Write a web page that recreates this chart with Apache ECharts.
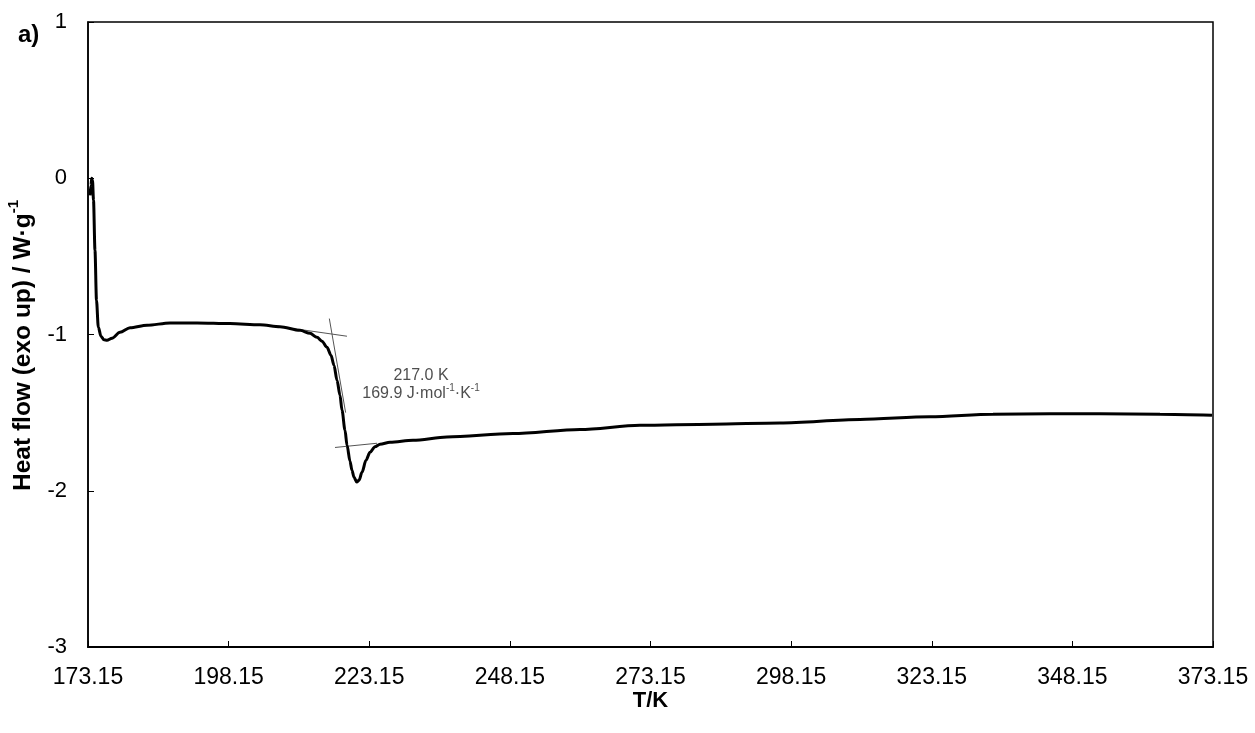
<!DOCTYPE html>
<html>
<head>
<meta charset="utf-8">
<title>DSC heat flow</title>
<script src="https://cdn.jsdelivr.net/npm/echarts@6/dist/echarts.min.js"></script>
<style>
  html, body { margin: 0; padding: 0; background: #fff; }
  #chart { width: 1255px; height: 733px; }
</style>
</head>
<body>
<div id="chart"></div>
<script>
// DSC trace: temperature (K) and heat flow (W/g, exo up)
const temperature = [
  173.51, 173.68, 173.81, 173.95, 174.13, 174.39, 174.66, 174.98, 175.46, 175.99,
  176.53, 177.42, 178.84, 180.62, 183.64, 187.73, 192.53, 198.39, 203.73, 207.28,
  210.84, 212.62, 213.86, 214.75, 215.64, 216.35, 216.88, 217.42, 217.95, 218.31,
  218.84, 219.20, 219.73, 220.08, 220.44, 220.92, 221.33, 221.86, 222.57, 223.28,
  224.17, 225.06, 226.84, 230.93, 236.97, 248.70, 260.62, 271.28, 284.26, 296.17,
  310.39, 322.84, 334.04, 344.17, 353.06, 363.73, 372.97
];
const heatFlow = [
  -0.109, -0.045, 0.000, -0.013, -0.141, -0.461, -0.781, -0.952, -1.011, -1.034,
  -1.037, -1.024, -0.986, -0.957, -0.941, -0.926, -0.926, -0.930, -0.938, -0.950,
  -0.973, -0.992, -1.018, -1.043, -1.082, -1.133, -1.197, -1.293, -1.389, -1.485,
  -1.613, -1.709, -1.811, -1.869, -1.914, -1.944, -1.933, -1.882, -1.805, -1.754,
  -1.718, -1.702, -1.690, -1.677, -1.656, -1.634, -1.608, -1.581, -1.574, -1.566,
  -1.544, -1.526, -1.510, -1.507, -1.507, -1.510, -1.517
];

// construction lines for the onset evaluation
const baselineBefore = [[210.48, -0.966], [219.19, -1.011]];
const inflectionTangent = [[216.05, -0.898], [218.95, -1.500]];
const baselineAfter = [[217.06, -1.723], [224.53, -1.696]];

const xTicks = [173.15, 198.15, 223.15, 248.15, 273.15, 298.15, 323.15, 348.15, 373.15];

const onsetText = '217.0 K';
const heatCapText = '169.9';
const annotationAt = [232.35, -1.312];

const FONT = '"Liberation Sans", Arial, sans-serif';

const chart = echarts.init(document.getElementById('chart'), null, { renderer: 'canvas' });

function thinLine(data) {
  return {
    type: 'line', data, symbol: 'none', silent: true, z: 3,
    lineStyle: { color: '#555', width: 1 }
  };
}

chart.setOption({
  animation: false,
  backgroundColor: '#fff',
  grid: {
    left: 88, right: 42, top: 22, bottom: 86,
    outerBoundsMode: 'none', containLabel: false,
    show: true, borderColor: '#000', borderWidth: 1.5, backgroundColor: 'transparent'
  },
  graphic: [{
    type: 'text', left: 18, top: 23,
    style: { text: 'a)', font: 'bold 24px ' + FONT, fill: '#000' }
  }],
  xAxis: {
    type: 'value', min: 173.15, max: 373.15,
    name: 'T/K', nameLocation: 'middle', nameGap: 43, nameMoveOverlap: false,
    nameTextStyle: { fontFamily: FONT, fontWeight: 'bold', fontSize: 22, color: '#000' },
    axisLine: { show: true, onZero: false, lineStyle: { color: '#000', width: 2 } },
    axisTick: { show: true, inside: true, length: 6, customValues: xTicks, lineStyle: { color: '#000', width: 1 } },
    axisLabel: {
      customValues: xTicks, margin: 19,
      formatter: v => v.toFixed(2),
      fontFamily: FONT, fontSize: 23, color: '#000'
    },
    splitLine: { show: false }
  },
  yAxis: {
    type: 'value', min: -3, max: 1, interval: 1,
    name: '{b|Heat flow (exo up) / W·g}{s|-1}',
    nameLocation: 'middle', nameGap: 52, nameRotate: 90, nameMoveOverlap: false,
    nameTextStyle: {
      padding: [0, 22, 0, 0],
      rich: {
        b: { fontFamily: FONT, fontWeight: 'bold', fontSize: 24.5, color: '#000', lineHeight: 30, verticalAlign: 'bottom' },
        s: { fontFamily: FONT, fontWeight: 'bold', fontSize: 15, color: '#000', lineHeight: 30, verticalAlign: 'top', padding: [0, 0, 11, 0] }
      }
    },
    axisLine: { show: true, lineStyle: { color: '#000', width: 1.5 } },
    axisTick: { show: true, inside: true, length: 6, lineStyle: { color: '#000', width: 1 } },
    axisLabel: {
      margin: 21,
      fontFamily: FONT, fontSize: 22, color: '#000'
    },
    splitLine: { show: false }
  },
  series: [
    {
      type: 'line',
      data: temperature.map((t, i) => [t, heatFlow[i]]),
      symbol: 'none', smooth: 0.3, smoothMonotone: 'x', z: 4,
      lineStyle: { color: '#000', width: 3 }
    },
    thinLine(baselineBefore),
    thinLine(inflectionTangent),
    thinLine(baselineAfter),
    {
      type: 'scatter', data: [annotationAt], symbolSize: 0, silent: true, z: 5,
      label: {
        show: true, position: 'inside',
        formatter: '{t|' + onsetText + '}\n{t|' + heatCapText + ' J·mol}{s|-1}{t|·K}{s|-1}',
        rich: {
          t: { fontFamily: FONT, fontSize: 16, color: '#222', lineHeight: 18, verticalAlign: 'bottom' },
          s: { fontFamily: FONT, fontSize: 10, color: '#222', lineHeight: 18, verticalAlign: 'top', padding: [0, 0, 6, 0] }
        }
      }
    }
  ]
});
</script>
</body>
</html>
